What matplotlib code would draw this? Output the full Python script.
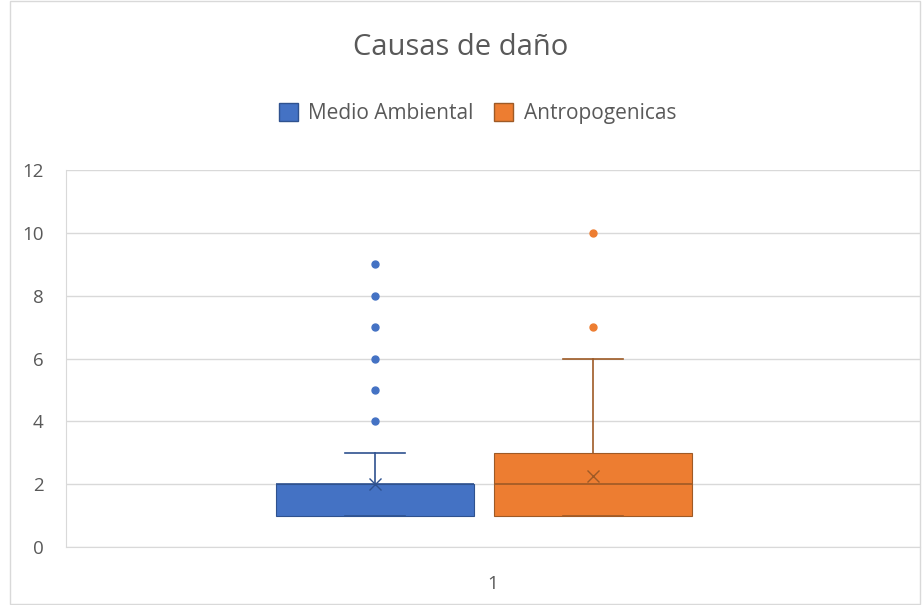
import matplotlib
matplotlib.use("Agg")
import matplotlib.pyplot as plt
from matplotlib.patches import Rectangle

plt.rcParams["font.family"] = ["Open Sans", "DejaVu Sans"]

# data (Excel box & whisker)
series = ["Medio Ambiental", "Antropogenicas"]
q1 = [1, 1]
medians = [2, 2]
q3 = [2, 3]
whisk_lo = [1, 1]
whisk_hi = [3, 6]
means = [2.0, 2.25]
outliers = [[4, 5, 6, 7, 8, 9], [7, 10]]
category = "1"

colors = ["#4472C4", "#ED7D31"]
dark = ["#2F528F", "#9E5A26"]

fig = plt.figure(figsize=(9.22, 6.05), dpi=100)
fig.patches.append(Rectangle((0.011, 0.002), 0.987, 0.996, transform=fig.transFigure,
                             fill=False, edgecolor="#d9d9d9", lw=1))
ax = fig.add_axes([0.0716, 0.0959, 0.926, 0.623])

stats = []
for i in range(2):
    stats.append(dict(label=series[i], q1=q1[i], med=medians[i], q3=q3[i],
                      whislo=whisk_lo[i], whishi=whisk_hi[i], mean=means[i],
                      fliers=outliers[i]))

pos = [0.362, 0.617]
for i in range(2):
    ax.bxp([stats[i]], positions=[pos[i]], widths=0.232, patch_artist=True,
           showmeans=True, showfliers=True,
           boxprops=dict(facecolor=colors[i], edgecolor=dark[i], lw=0.8),
           medianprops=dict(color=dark[i], lw=1.2),
           whiskerprops=dict(color=dark[i], lw=1.2),
           capprops=dict(color=dark[i], lw=1.2),
           capwidths=0.07,
           meanprops=dict(marker="x", markeredgecolor=dark[i], markersize=9, mew=1),
           flierprops=dict(marker="o", markerfacecolor=colors[i], markeredgecolor=colors[i],
                           markersize=5),
           zorder=3)

ax.set_xlim(0, 1)
ax.set_ylim(0, 12)
ax.set_yticks(range(0, 13, 2))
ax.set_xticks([0.5])
ax.set_xticklabels([category])
ax.grid(axis="y", color="#d9d9d9", lw=1, zorder=0)
ax.set_axisbelow(True)
for s in ["top", "right"]:
    ax.spines[s].set_visible(False)
for s in ["left", "bottom"]:
    ax.spines[s].set_color("#d9d9d9")
ax.tick_params(length=0, colors="#595959", labelsize=13.5, pad=16)
ax.tick_params(axis="x", pad=20)

fig.text(0.5, 0.922, "Causas de daño", ha="center", va="center", fontsize=21, color="#595959")
handles = [Rectangle((0, 0), 1, 1, facecolor=colors[i], edgecolor=dark[i]) for i in range(2)]
fig.legend(handles, series, loc="center", bbox_to_anchor=(0.518, 0.812), ncol=2, frameon=False,
           fontsize=15, labelcolor="#595959", handlelength=0.9, handleheight=0.9,
           columnspacing=1.0, handletextpad=0.5)

fig.savefig("out.png", dpi=100)
